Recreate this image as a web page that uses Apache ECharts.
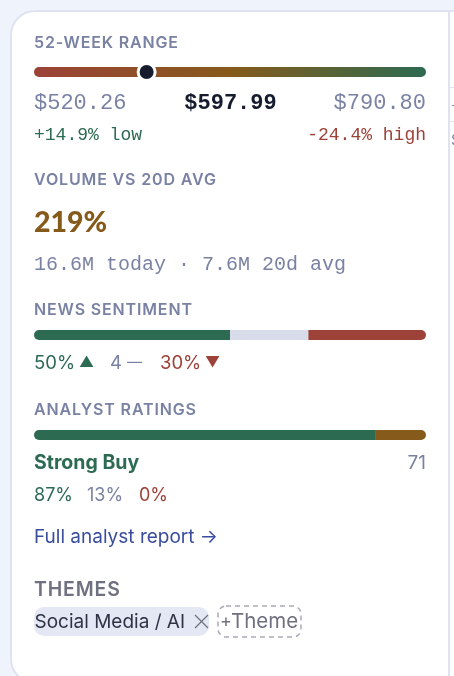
<!DOCTYPE html>
<html>
<head>
<meta charset="utf-8">
<style>
  html, body { margin: 0; padding: 0; background: #eff3fb; }
  #chart { width: 454px; height: 676px; }
</style>
<script src="https://cdn.jsdelivr.net/npm/echarts@6/dist/echarts.min.js"></script>
</head>
<body>
<div id="chart"></div>
<script>
// 52-week range
const rangeLow = 520.26;
const rangeHigh = 790.80;
const rangePrice = 597.99;
const rangeNotes = ["+14.9% low", "-24.4% high"];

// volume
const volumePct = "219%";
const volumeNote = "16.6M today · 7.6M 20d avg";

// news sentiment, percent of articles
const sentimentNames = ["Positive", "Neutral", "Negative"];
const sentimentValues = [50, 20, 30];
const neutralCount = 4;

// analyst ratings, percent of analysts
const ratingNames = ["Buy", "Hold", "Sell"];
const ratingValues = [87, 13, 0];
const ratingLabel = "Strong Buy";
const ratingCount = 71;

const themes = ["Social Media / AI"];

const GREEN = "#2d6a52", RED = "#9c4238", BROWN = "#855a1a", GREY = "#d8dcea";
const MUTED = "#7a82a3", DARK = "#161b2e", EDGE = "#dfe3f0";
const SANS = "Inter, sans-serif", MONO = "'Liberation Mono', monospace";

// section headings are tracked out, zrender has no letter spacing option
const origFillText = CanvasRenderingContext2D.prototype.fillText;
CanvasRenderingContext2D.prototype.fillText = function (text, x, y) {
  this.letterSpacing = this.font.startsWith("600 ") ? "0.85px" : "0px";
  origFillText.call(this, text, x, y);
  this.letterSpacing = "0px";
};

function txt(x, y, text, size, fill, opts) {
  return {
    type: "text",
    z: 5,
    style: {
      x, y, text, fill,
      font: `${(opts && opts.weight) || 400} ${size}px ${(opts && opts.family) || SANS}`,
      textAlign: (opts && opts.align) || "left",
      textVerticalAlign: "middle"
    }
  };
}

function grid(top) {
  return { left: 34, width: 392, top, height: 10 };
}

function xAxis(gridIndex, min, max) {
  return { type: "value", gridIndex, min, max, show: false };
}

function yAxis(gridIndex) {
  return { type: "category", gridIndex, data: [""], show: false };
}

function stacked(name, value, gridIndex, color, i, last) {
  const r = [i === 0 ? 5 : 0, i === last ? 5 : 0, i === last ? 5 : 0, i === 0 ? 5 : 0];
  return {
    type: "bar", name, xAxisIndex: gridIndex, yAxisIndex: gridIndex, stack: "s" + gridIndex,
    data: [value], barWidth: 10, silent: true, itemStyle: { color, borderRadius: r }
  };
}

const sentimentColors = [GREEN, GREY, RED];
const ratingColors = [GREEN, BROWN, RED];
const ratingLast = ratingValues.reduce((acc, v, i) => (v > 0 ? i : acc), 0);

const series = [
  {
    type: "bar", xAxisIndex: 0, yAxisIndex: 0, data: [rangeHigh], barWidth: 10, silent: true,
    itemStyle: {
      borderRadius: 5,
      color: new echarts.graphic.LinearGradient(0, 0, 1, 0, [
        { offset: 0, color: RED }, { offset: 0.5, color: BROWN }, { offset: 1, color: GREEN }
      ])
    }
  },
  {
    type: "scatter", xAxisIndex: 0, yAxisIndex: 0, data: [[rangePrice, ""]], symbolSize: 17, z: 4, silent: true,
    itemStyle: { color: DARK, borderColor: "#fff", borderWidth: 3, opacity: 1 }
  }
];
sentimentValues.forEach((v, i) => series.push(stacked(sentimentNames[i], v, 1, sentimentColors[i], i, 2)));
ratingValues.forEach((v, i) => series.push(stacked(ratingNames[i], v, 2, ratingColors[i], i, ratingLast)));

const chart = echarts.init(document.getElementById("chart"), null, { renderer: "canvas" });

chart.setOption({
  animation: false,
  backgroundColor: "#eff3fb",
  grid: [grid(67), grid(330), grid(430)],
  xAxis: [xAxis(0, rangeLow, rangeHigh), xAxis(1, 0, 100), xAxis(2, 0, 100)],
  yAxis: [yAxis(0), yAxis(1), yAxis(2)],
  series,
  graphic: [
    // card, then the edge of the next card that is cut off by the page
    { type: "rect", z: -2, shape: { x: 11, y: 11, width: 520, height: 672, r: 24 },
      style: { fill: "#fff", stroke: EDGE, lineWidth: 2 } },
    { type: "rect", z: -1, shape: { x: 448, y: 12, width: 2, height: 664 }, style: { fill: EDGE } },
    { type: "rect", z: -1, shape: { x: 450, y: 87, width: 4, height: 1 }, style: { fill: EDGE } },
    { type: "rect", z: -1, shape: { x: 450, y: 121, width: 4, height: 1 }, style: { fill: EDGE } },
    txt(451, 105, "+", 13, MUTED),
    txt(451, 140, "S", 15, MUTED),

    txt(34, 43.5, "52-WEEK RANGE", 16, MUTED, { weight: 600 }),
    txt(34, 103, "$" + rangeLow.toFixed(2), 22, MUTED, { family: MONO }),
    txt(230.5, 103, "$" + rangePrice.toFixed(2), 22, DARK, { family: MONO, weight: 700, align: "center" }),
    txt(426, 103, "$" + rangeHigh.toFixed(2), 22, MUTED, { family: MONO, align: "right" }),
    txt(34, 135, rangeNotes[0], 18, GREEN, { family: MONO }),
    txt(426, 135, rangeNotes[1], 18, RED, { family: MONO, align: "right" }),

    txt(34, 180.5, "VOLUME VS 20D AVG", 16, MUTED, { weight: 600 }),
    txt(34, 223, volumePct, 28.5, BROWN, { weight: 900, family: "Lato, sans-serif" }),
    txt(34, 264.5, volumeNote, 20, MUTED, { family: MONO }),

    txt(34, 310.5, "NEWS SENTIMENT", 16, MUTED, { weight: 600 }),
    txt(34, 363, sentimentValues[0] + "%", 18.5, GREEN),
    txt(79, 362, "▲", 15, GREEN),
    txt(110, 363, neutralCount + "", 18.5, MUTED),
    txt(127, 362, "—", 15, MUTED),
    txt(160, 363, sentimentValues[2] + "%", 18.5, RED),
    txt(205, 362, "▼", 15, RED),

    txt(34, 410.5, "ANALYST RATINGS", 16, MUTED, { weight: 600 }),
    txt(34, 463, ratingLabel, 19.5, GREEN, { weight: 700 }),
    txt(426, 463, ratingCount + "", 19, MUTED, { align: "right" }),
    txt(34, 496, ratingValues[0] + "%", 18, GREEN),
    txt(87, 496, ratingValues[1] + "%", 18, MUTED),
    txt(139, 496, ratingValues[2] + "%", 18, RED),
    txt(34, 537, "Full analyst report →", 19, "#3a4d9c"),

    txt(34, 590, "THEMES", 19.5, "#6f7181", { weight: 600 }),
    { type: "rect", z: 1, shape: { x: 34, y: 607, width: 175, height: 29, r: 10 }, style: { fill: "#e4e8f4" } },
    txt(34.5, 622, themes[0], 19, "#2f3345"),
    { type: "line", z: 5, shape: { x1: 195, y1: 615, x2: 208, y2: 628 }, style: { stroke: "#6f7181", lineWidth: 1.3 } },
    { type: "line", z: 5, shape: { x1: 208, y1: 615, x2: 195, y2: 628 }, style: { stroke: "#6f7181", lineWidth: 1.3 } },
    { type: "rect", z: 1, shape: { x: 218, y: 606, width: 83, height: 31, r: 8 },
      style: { fill: "none", stroke: "#a9abb7", lineWidth: 1.5, lineDash: [5, 4] } },
    txt(220, 622, "+", 18, "#6f7181"),
    txt(231, 622, "Theme", 20.5, "#6f7181")
  ]
});
</script>
</body>
</html>
